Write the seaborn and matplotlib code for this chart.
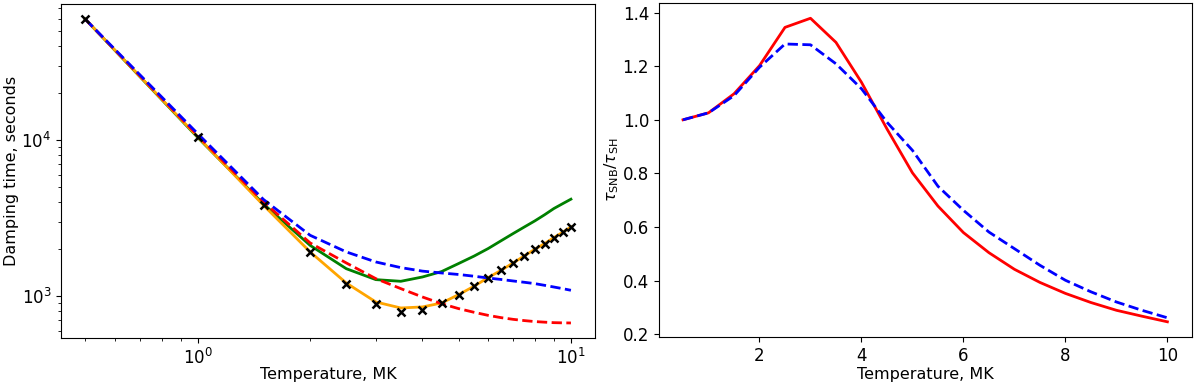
import numpy as np
import pandas as pd
import seaborn as sns
import matplotlib
matplotlib.use("Agg")
import matplotlib.pyplot as plt

# ------------------------------------------------------------
# Data
# ------------------------------------------------------------
temperature = [0.5, 1.0, 1.5, 2.0, 2.5, 3.0, 3.5, 4.0, 4.5, 5.0,
               5.5, 6.0, 6.5, 7.0, 7.5, 8.0, 8.5, 9.0, 9.5, 10.0]

# left panel: damping times (seconds)
tau_crosses = [59400, 10500, 3830, 1925, 1200, 889, 794, 817, 906, 1025,
               1160, 1318, 1468, 1636, 1815, 2000, 2176, 2377, 2571, 2781]
tau_orange = [59400, 10500, 3830, 1925, 1217, 920, 842, 855, 906, 1025,
              1160, 1318, 1468, 1636, 1815, 2000, 2176, 2377, 2571, 2781]
tau_green = [59400, 10400, 3900, 2120, 1503, 1279, 1248, 1330, 1440, 1622,
             1810, 2023, 2270, 2524, 2780, 3040, 3330, 3650, 3920, 4190]
tau_blue = [59400, 11000, 4170, 2460, 1925, 1660, 1527, 1450, 1411, 1380,
            1345, 1310, 1282, 1254, 1230, 1206, 1176, 1147, 1120, 1093]
tau_red = [59400, 10700, 4025, 2198, 1636, 1298, 1120, 990, 897, 834,
           790, 755, 730, 712, 699, 689, 683, 678, 676, 675]

# right panel: ratio tau_SNB / tau_SH
ratio_red = [1.000, 1.026, 1.097, 1.202, 1.345, 1.379, 1.289, 1.140, 0.966, 0.802,
             0.678, 0.579, 0.504, 0.442, 0.393, 0.352, 0.318, 0.289, 0.267, 0.246]
ratio_blue = [1.000, 1.026, 1.090, 1.196, 1.283, 1.280, 1.209, 1.116, 0.991, 0.886,
              0.752, 0.662, 0.581, 0.519, 0.457, 0.401, 0.358, 0.320, 0.289, 0.261]

df = pd.DataFrame({
    "T": temperature,
    "crosses": tau_crosses,
    "orange": tau_orange,
    "green": tau_green,
    "blue": tau_blue,
    "red": tau_red,
    "ratio_red": ratio_red,
    "ratio_blue": ratio_blue,
})

# ------------------------------------------------------------
# Figure
# ------------------------------------------------------------
plt.rcParams["font.size"] = 11.5
plt.rcParams["xtick.labelsize"] = 12
plt.rcParams["ytick.labelsize"] = 12
fig = plt.figure(figsize=(12, 3.86), dpi=100)
ax1 = fig.add_axes([0.051, 0.124, 0.445, 0.865])
ax2 = fig.add_axes([0.549, 0.127, 0.444, 0.865])

dash = (0, (3.7, 1.6))

# Left panel
sns.lineplot(data=df, x="T", y="green", ax=ax1, color="green", lw=2)
sns.lineplot(data=df, x="T", y="orange", ax=ax1, color="orange", lw=2)
sns.lineplot(data=df, x="T", y="red", ax=ax1, color="red", lw=2, linestyle=dash)
sns.lineplot(data=df, x="T", y="blue", ax=ax1, color="blue", lw=2, linestyle=dash)
ax1.plot(df["T"], df["crosses"], "x", color="black", ms=6, mew=1.8, zorder=5)
ax1.set_xscale("log")
ax1.set_yscale("log")
ax1.set_xlabel("Temperature, MK", labelpad=-1)
ax1.set_ylabel("Damping time, seconds", labelpad=2)

# Right panel
sns.lineplot(data=df, x="T", y="ratio_red", ax=ax2, color="red", lw=2)
sns.lineplot(data=df, x="T", y="ratio_blue", ax=ax2, color="blue", lw=2, linestyle=dash)
ax2.set_xticks([2, 4, 6, 8, 10])
ax2.set_xlabel("Temperature, MK", labelpad=2)
ax2.set_ylabel(r"$\tau_{\rm SNB}/\tau_{\rm SH}$", labelpad=1)

plt.savefig("out.png", dpi=100)
